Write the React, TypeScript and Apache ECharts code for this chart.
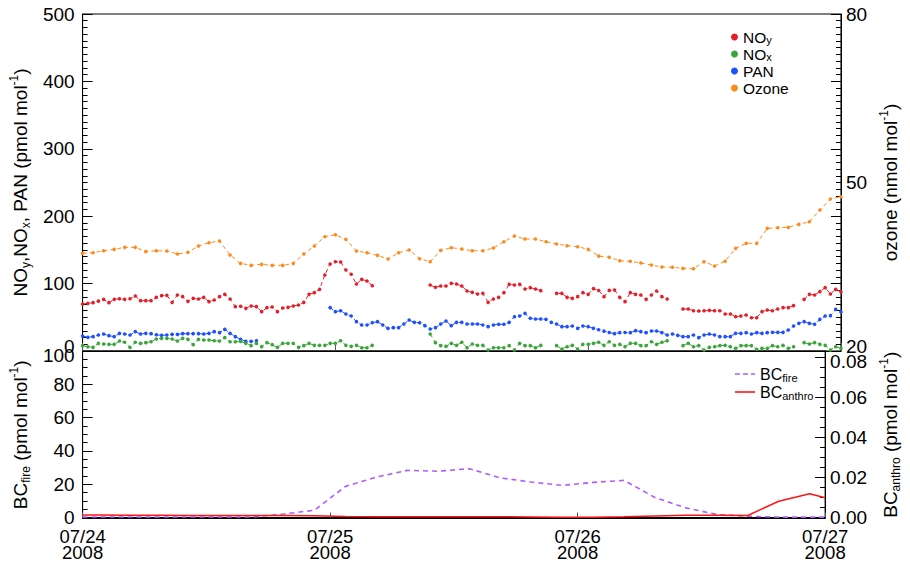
import React, { useEffect, useRef } from "react";
import * as echarts from "echarts";

// ---------- data ----------
const STEP = 0.5; // half-hour sampling of NOy / NOx / PAN (hours since 07/24 00:00)
const DAY_TICKS = [0, 24, 48, 72];
const DAY_LABELS = ["07/24\n2008", "07/25\n2008", "07/26\n2008", "07/27\n2008"];

const NOY_STARTS = [0, 33, 45, 57, 68.5];
const NOY_1 = [69.7, 70.7, 71.7, 74.0, 76.6, 71.7, 76.6, 77.6, 76.6, 77.6,
  81.6, 74.7, 74.7, 74.7, 79.6, 82.1, 82.6, 72.2, 83.1, 80.6,
  73.7, 78.1, 77.2, 79.6, 73.2, 75.7, 80.6, 84.1, 77.2, 65.8,
  66.3, 63.3, 66.8, 65.8, 58.4, 64.3, 65.3, 58.4, 63.8, 64.8,
  66.8, 68.2, 72.2, 84.1, 86.6, 91.5, 112.8, 129.1, 132.5, 132.0,
  120.2, 113.8, 99.4, 106.3, 103.9, 96.9];
const NOY_2 = [97.9, 94.5, 96.4, 96.4, 100.4, 99.4, 96.4, 89.0, 87.0, 84.6,
  85.5, 72.2, 77.2, 79.6, 86.6, 98.9, 97.9, 98.9, 92.0, 94.0, 92.0, 89.5];
const NOY_3 = [85.5, 85.5, 79.6, 78.1, 80.6, 86.6, 84.1, 92.5, 89.8, 80.6,
  89.9, 90.5, 79.6, 73.2, 86.6, 84.1, 83.1, 76.6, 83.1, 89.0, 80.6, 77.2];
const NOY_4 = [62.3, 62.3, 59.8, 59.3, 59.8, 60.3, 59.8, 59.8, 54.9, 54.9,
  50.9, 51.9, 53.4, 49.4, 49.4, 58.4, 60.8, 59.8, 62.3, 64.3, 64.3, 67.3];
const NOY_5 = [76.6, 84.1, 83.1, 88.1, 94.0, 84.6, 91.5, 88.0];

const NOX_STARTS = [0, 33, 45, 57, 68.5];
const NOX_1 = [7.9, 6.4, 5.4, 11.4, 10.4, 9.9, 9.9, 14.8, 12.9, 5.4,
  12.9, 11.4, 12.4, 13.8, 17.8, 18.8, 18.8, 17.8, 14.8, 18.8,
  17.3, 9.4, 17.3, 16.3, 16.3, 15.3, 14.8, 19.8, 13.8, 13.8,
  14.3, 11.4, 7.9, 11.4, 6.4, 12.4, 9.4, 5.4, 11.4, 11.4,
  11.4, 5.4, 7.9, 11.4, 8.4, 8.4, 8.4, 11.4, 11.4, 15.3,
  8.4, 6.9, 8.4, 4.9, 4.9, 8.4];
const NOX_2 = [25.2, 12.4, 7.9, 6.9, 11.4, 8.4, 12.9, 4.9, 10.4, 8.4,
  8.4, 1.5, 4.9, 4.9, 4.9, 7.9, 1.5, 11.4, 7.9, 7.9, 4.9, 8.4];
const NOX_3 = [7.9, 3.0, 6.4, 8.4, 3.0, 9.9, 9.9, 11.4, 12.9, 8.4,
  13.8, 8.4, 9.9, 6.4, 11.4, 11.4, 7.9, 7.9, 13.8, 9.9, 12.9, 15.3];
const NOX_4 = [7.9, 11.4, 6.4, 7.9, 1.5, 5.4, 6.4, 7.9, 8.4, 6.4,
  3.9, 7.9, 7.9, 7.9, 2.5, 3.9, 3.9, 7.9, 6.4, 8.4, 3.9, 6.4];
const NOX_5 = [12.4, 10.4, 12.4, 9.9, 8.4, 1.5, 6.4, 3.9];

const PAN_STARTS = [0, 23.5];
const PAN_1 = [22.3, 20.3, 21.3, 23.7, 25.2, 22.8, 21.3, 26.2, 25.2, 23.7,
  28.7, 25.2, 26.2, 25.7, 24.2, 23.2, 23.7, 24.7, 24.7, 25.7,
  25.7, 25.7, 25.7, 25.2, 26.2, 28.7, 27.2, 32.1, 26.2, 21.3,
  17.3, 14.3, 14.3, 15.3];
const PAN_2 = [64.3, 58.4, 59.8, 54.9, 51.9, 43.5, 38.6, 38.6,
  42.0, 43.5, 38.6, 33.6, 34.6, 34.6, 40.1, 46.0, 42.5, 42.0,
  37.6, 32.6, 34.6, 40.1, 44.5, 37.6, 42.5, 42.5, 40.1, 40.1,
  40.1, 38.6, 36.1, 38.6, 39.6, 39.6, 42.5, 50.9, 51.9, 55.9,
  48.5, 47.5, 47.5, 47.0, 42.5, 40.1, 36.1, 36.1, 37.1, 33.6,
  37.1, 36.1, 33.6, 31.6, 29.5, 27.5, 25.7, 27.2, 27.5, 27.2,
  30.2, 28.7, 27.2, 29.7, 29.7, 27.2, 23.7, 25.2, 23.2, 21.3,
  21.3, 23.7, 19.8, 23.7, 25.2, 23.7, 21.3, 21.3, 21.3, 26.2,
  26.2, 27.2, 25.2, 27.2, 26.2, 27.2, 27.7, 27.7, 27.7, 31.2,
  37.1, 41.0, 43.5, 41.0, 39.6, 47.0, 51.9, 52.4, 61.8, 58.0];

// hourly ozone (nmol/mol), hours 0..72
const OZONE = [37.4, 37.5, 37.85, 38.1, 38.46, 38.46, 37.7, 37.85, 37.8, 37.27,
  37.57, 38.7, 39.28, 39.58, 37.09, 35.6, 35.25, 35.43, 35.25, 35.25,
  35.6, 37.27, 38.7, 40.35, 40.7, 39.88, 37.8, 37.5, 37.03, 36.38,
  37.5, 37.98, 36.43, 35.9, 37.92, 38.39, 38.16, 37.85, 37.85, 38.33,
  39.46, 40.47, 39.94, 39.94, 39.46, 39.05, 38.74, 38.57, 38.1, 36.9,
  36.68, 36.07, 35.97, 35.66, 35.31, 34.95, 34.9, 34.72, 34.65, 35.9,
  35.13, 35.97, 38.28, 39.17, 39.17, 41.84, 41.95, 42.02, 42.55, 43.02,
  45.1, 47.06, 47.47];

// 3-hourly black carbon model output
const BC_HOURS = [0, 1.5, 4.5, 7.5, 10.5, 13.5, 16.5, 19.5, 22.5, 25.5, 28.5, 31.5, 34.5,
  37.5, 40.5, 43.5, 46.5, 49.5, 52.5, 55.5, 58.5, 61.5, 64.5, 67.5, 70.5, 72];
const BC_FIRE = [0.3, 0.3, 0.3, 0.3, 0.3, 0.3, 0.3, 2.1, 4.4, 18.7, 24.3, 28.3, 27.8,
  29.3, 23.8, 21.3, 19.3, 21.1, 22.3, 12.0, 5.8, 1.8, 0.8, 0.2, 0.2, 0.2];
const BC_ANTHRO = [0.00124, 0.00124, 0.00114, 0.00109, 0.001, 0.001, 0.001, 0.001, 0.00084,
  0.0005, 0.00035, 0.00035, 0.00035, 0.00035, 0.00035, 0.00025, 0.00015, 0.00015, 0.00035,
  0.00075, 0.00114, 0.00109, 0.001, 0.0081, 0.0118, 0.0098];

const BC_LEFT_LABELS = [0, 20, 40, 60, 80, 100];
const BC_LEFT_MINOR = [5, 10, 15, 25, 30, 35, 45, 50, 55, 65, 70, 75, 85, 90, 95];
const BC_RIGHT_LABELS = [0, 0.02, 0.04, 0.06, 0.08];
const BC_RIGHT_MINOR = [0.005, 0.01, 0.015, 0.025, 0.03, 0.035, 0.045, 0.05, 0.055, 0.065, 0.07, 0.075];
const OZONE_LABELS = [20, 50, 80];

// ---------- helpers ----------
function joinSegments(starts: number[], segs: number[][]) {
  const out: (number | string)[][] = [];
  segs.forEach((vals, k) => {
    if (k > 0) out.push([starts[k] - STEP, "-"]);
    vals.forEach((v, i) => out.push([starts[k] + i * STEP, v]));
  });
  return out;
}

const FONT = "Liberation Sans";
const C_NOY = "#e3202a";
const C_NOX = "#3aa53a";
const C_PAN = "#1f4fff";
const C_O3 = "#ff8a1c";
const C_FIRE = "#b05cff";
const C_ANTHRO = "#ff1414";

const ICON_DASHED = "path://M0,0h5v1.6h-5z M8,0h5v1.6h-5z M16,0h4v1.6h-4z";
const ICON_SOLID = "path://M0,0h20v1.6h-20z";

const nameRich = {
  sub: { fontSize: 12, lineHeight: 6, verticalAlign: "bottom", fontFamily: FONT, color: "#000" },
  sup: { fontSize: 12, lineHeight: 12, verticalAlign: "top", fontFamily: FONT, color: "#000" },
};
const nameStyle = { fontSize: 19, lineHeight: 24, fontFamily: FONT, color: "#000", rich: nameRich };
const labelStyle = { fontSize: 19, fontFamily: FONT, color: "#000" };
const nudgeRich = {
  up: { fontSize: 19, fontFamily: FONT, color: "#000", padding: [0, 0, 9, 0] },
  dn: { fontSize: 19, fontFamily: FONT, color: "#000", padding: [9, 0, 0, 0] },
};

function buildOption() {
  const noy = joinSegments(NOY_STARTS, [NOY_1, NOY_2, NOY_3, NOY_4, NOY_5]);
  const nox = joinSegments(NOX_STARTS, [NOX_1, NOX_2, NOX_3, NOX_4, NOX_5]);
  const pan = joinSegments(PAN_STARTS, [PAN_1, PAN_2]);
  const ozone = OZONE.map((v, i) => [i, v]);
  const fire = BC_HOURS.map((h, i) => [h, BC_FIRE[i]]);
  const anthro = BC_HOURS.map((h, i) => [h, BC_ANTHRO[i]]);

  const pointSeries = (name: string, data: any[], color: string, yAxisIndex: number) => ({
    name,
    type: "line",
    xAxisIndex: 0,
    yAxisIndex,
    data,
    symbol: "circle",
    symbolSize: 3.6,
    showSymbol: true,
    connectNulls: false,
    itemStyle: { color },
    lineStyle: { color, width: 1, type: [4, 3] },
  });

  const tick = (len: number) => ({ show: true, inside: true, length: len, lineStyle: { color: "#000", width: 1 } });

  return {
    animation: false,
    backgroundColor: "#fff",
    textStyle: { fontFamily: FONT },
    grid: [
      { left: 80, right: 62, top: 14, height: 337, show: true, borderColor: "#000", borderWidth: 1 },
      { left: 80, right: 62, top: 351, height: 168, show: true, borderColor: "#000", borderWidth: 1 },
    ],
    legend: [
      {
        orient: "vertical",
        left: 731,
        top: 28.5,
        padding: 0,
        itemGap: 0,
        itemWidth: 7,
        itemHeight: 7,
        itemTextGap: 5,
        data: [
          { name: "NOy", icon: "circle" },
          { name: "NOx", icon: "circle" },
          { name: "PAN", icon: "circle" },
          { name: "Ozone", icon: "circle" },
        ],
        formatter: (n: string) => (n === "NOy" ? "NO{sub|y}" : n === "NOx" ? "NO{sub|x}" : n),
        textStyle: {
          fontSize: 15.5,
          lineHeight: 17,
          fontFamily: FONT,
          color: "#000",
          rich: { sub: { fontSize: 11, lineHeight: 5, verticalAlign: "bottom", fontFamily: FONT, color: "#000" } },
        },
      },
      {
        orient: "vertical",
        left: 735,
        top: 365,
        padding: 0,
        itemGap: 0,
        itemWidth: 20,
        itemHeight: 8,
        itemTextGap: 7,
        data: [
          { name: "BCfire", icon: ICON_DASHED },
          { name: "BCanthro", icon: ICON_SOLID },
        ],
        formatter: (n: string) => (n === "BCfire" ? "BC{sub|fire}" : "BC{sub|anthro}"),
        textStyle: {
          fontSize: 16,
          lineHeight: 18,
          fontFamily: FONT,
          color: "#000",
          rich: { sub: { fontSize: 11, lineHeight: 5, verticalAlign: "bottom", fontFamily: FONT, color: "#000" } },
        },
      },
    ],
    xAxis: [
      {
        type: "value",
        gridIndex: 0,
        min: 0,
        max: 72,
        interval: 24,
        axisLine: { show: true, lineStyle: { color: "#000" } },
        axisTick: { show: true, inside: true, length: 8, lineStyle: { color: "#555" } },
        axisLabel: { show: false },
        splitLine: { show: false },
      },
      {
        type: "value",
        gridIndex: 1,
        min: 0,
        max: 72,
        interval: 24,
        axisLine: { show: true, lineStyle: { color: "#000" } },
        axisTick: { show: true, inside: true, length: 5, lineStyle: { color: "#555" } },
        axisLabel: {
          ...labelStyle,
          fontSize: 18.5,
          lineHeight: 16,
          margin: 10,
          formatter: (v: number) => DAY_LABELS[DAY_TICKS.indexOf(v)] ?? "",
        },
        splitLine: { show: false },
      },
    ],
    yAxis: [
      {
        // 0: NOy/NOx/PAN
        type: "value",
        gridIndex: 0,
        position: "left",
        min: 0,
        max: 500,
        interval: 100,
        axisLine: { show: true, lineStyle: { color: "#000" } },
        axisTick: tick(10),
        minorTick: { show: true, splitNumber: 10, length: 5, lineStyle: { color: "#000" } },
        axisLabel: {
          ...labelStyle,
          margin: 8,
          rich: nudgeRich,
          formatter: (v: number) => (v === 0 ? "{up|0}" : String(v)),
        },
        splitLine: { show: false },
        name: "NO{sub|y},NO{sub|x}, PAN (pmol mol{sup|-1})",
        nameLocation: "middle",
        nameRotate: 90,
        nameGap: 47,
        nameTextStyle: nameStyle,
      },
      {
        // 1: ozone
        type: "value",
        gridIndex: 0,
        position: "right",
        min: 20,
        max: 80,
        axisLine: { show: false },
        axisTick: { show: false },
        axisLabel: {
          ...labelStyle,
          margin: 5,
          customValues: OZONE_LABELS,
          rich: nudgeRich,
          formatter: (v: number) => (v === 20 ? "{up|20}" : String(v)),
        },
        splitLine: { show: false },
        name: "ozone (nmol mol{sup|-1})",
        nameLocation: "middle",
        nameRotate: 90,
        nameGap: 29,
        nameTextStyle: nameStyle,
      },
      {
        // 2: mirrored left-axis ticks on the right
        type: "value",
        gridIndex: 0,
        position: "right",
        min: 0,
        max: 500,
        interval: 100,
        axisLine: { show: true, lineStyle: { color: "#000" } },
        axisTick: tick(10),
        minorTick: { show: true, splitNumber: 10, length: 5, lineStyle: { color: "#000" } },
        axisLabel: { show: false },
        splitLine: { show: false },
      },
      {
        // 3: BC fire
        type: "value",
        gridIndex: 1,
        position: "left",
        min: -0.6,
        max: 100,
        axisLine: { show: true, lineStyle: { color: "#000" } },
        axisTick: { ...tick(10), customValues: BC_LEFT_LABELS },
        axisLabel: {
          ...labelStyle,
          margin: 8,
          customValues: BC_LEFT_LABELS,
          rich: nudgeRich,
          formatter: (v: number) => (v === 100 ? "{dn|100}" : String(v)),
        },
        splitLine: { show: false },
        name: "BC{sub|fire} (pmol mol{sup|-1})",
        nameLocation: "middle",
        nameRotate: 90,
        nameGap: 47,
        nameTextStyle: nameStyle,
      },
      {
        // 4: BC fire minor ticks
        type: "value",
        gridIndex: 1,
        position: "left",
        min: -0.6,
        max: 100,
        axisLine: { show: false },
        axisTick: { ...tick(5), customValues: BC_LEFT_MINOR },
        axisLabel: { show: false },
        splitLine: { show: false },
      },
      {
        // 5: BC anthro
        type: "value",
        gridIndex: 1,
        position: "right",
        min: -0.0005,
        max: 0.083,
        axisLine: { show: true, lineStyle: { color: "#000" } },
        axisTick: { ...tick(10), customValues: BC_RIGHT_LABELS },
        axisLabel: {
          ...labelStyle,
          margin: 5,
          customValues: BC_RIGHT_LABELS,
          rich: nudgeRich,
          formatter: (v: number) => (v > 0.07 ? "{dn|" + v.toFixed(2) + "}" : v.toFixed(2)),
        },
        splitLine: { show: false },
        name: "BC{sub|anthro} (pmol mol{sup|-1})",
        nameLocation: "middle",
        nameRotate: 90,
        nameGap: 40,
        nameTextStyle: nameStyle,
      },
      {
        // 6: BC anthro minor ticks
        type: "value",
        gridIndex: 1,
        position: "right",
        min: -0.0005,
        max: 0.083,
        axisLine: { show: false },
        axisTick: { ...tick(5), customValues: BC_RIGHT_MINOR },
        axisLabel: { show: false },
        splitLine: { show: false },
      },
    ],
    series: [
      pointSeries("Ozone", ozone, C_O3, 1),
      pointSeries("NOy", noy, C_NOY, 0),
      pointSeries("PAN", pan, C_PAN, 0),
      pointSeries("NOx", nox, C_NOX, 0),
      {
        name: "BCfire",
        type: "line",
        xAxisIndex: 1,
        yAxisIndex: 3,
        data: fire,
        symbol: "none",
        itemStyle: { color: C_FIRE },
        lineStyle: { color: C_FIRE, width: 1.6, type: [5, 4] },
      },
      {
        name: "BCanthro",
        type: "line",
        xAxisIndex: 1,
        yAxisIndex: 5,
        data: anthro,
        symbol: "none",
        itemStyle: { color: C_ANTHRO },
        lineStyle: { color: C_ANTHRO, width: 1.5 },
      },
    ],
  };
}

export default function App() {
  const ref = useRef<HTMLDivElement>(null);
  useEffect(() => {
    if (!ref.current) return;
    const chart = echarts.init(ref.current, null, { renderer: "svg" });
    chart.setOption(buildOption() as any);
    return () => chart.dispose();
  }, []);
  return (
    <div
      ref={ref}
      style={{ position: "absolute", left: 0, top: 0, width: 910, height: 562, background: "#fff" }}
    />
  );
}
